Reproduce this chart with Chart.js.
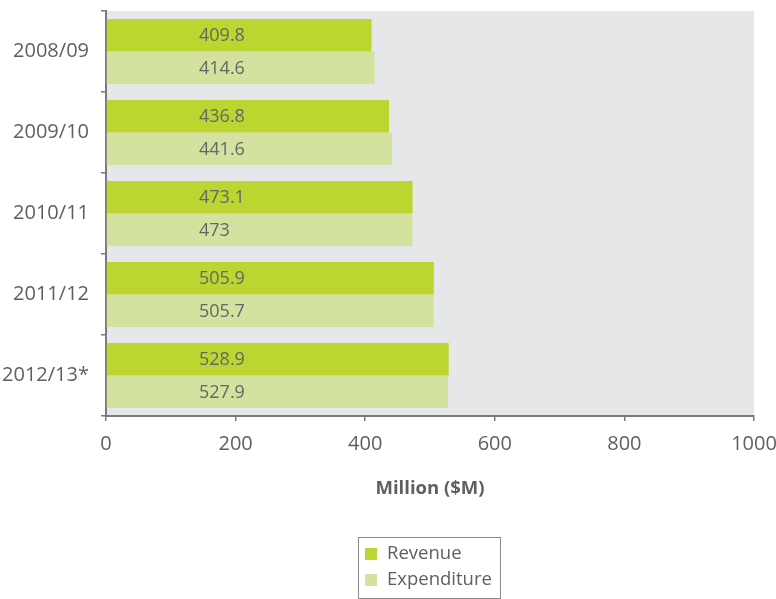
<!DOCTYPE html>
<html>
<head>
<meta charset="utf-8">
<script src="https://cdn.jsdelivr.net/npm/chart.js@4/dist/chart.umd.min.js"></script>
<style>
  html, body { margin: 0; padding: 0; background: #ffffff; }
  #wrap { width: 776px; height: 599px; position: relative; }
</style>
</head>
<body>
<div id="wrap"><canvas id="c" width="776" height="599"></canvas></div>
<script>
// Financial years shown on the vertical axis
const years = ['2008/09', '2009/10', '2010/11', '2011/12', '2012/13*'];
// Revenue and expenditure per year, in millions of dollars
const revenue = [409.8, 436.8, 473.1, 505.9, 528.9];
const expenditure = [414.6, 441.6, 473, 505.7, 527.9];
// Horizontal axis ticks
const xTicks = [0, 200, 400, 600, 800, 1000];

const FONT = "'Open Sans', 'DejaVu Sans', sans-serif";
const TEXT = '#5f5f5f';
const AXIS = '#7a7a7a';

// Grey panel behind the bars
const panelBg = {
  id: 'panelBg',
  beforeDraw(chart) {
    const { ctx, chartArea: a } = chart;
    ctx.save();
    ctx.fillStyle = '#e6e7e9';
    ctx.fillRect(a.left, a.top, a.right - a.left, a.bottom - a.top);
    ctx.restore();
  }
};

// Value written inside each bar, in a fixed column near the axis
const barValues = {
  id: 'barValues',
  afterDatasetsDraw(chart) {
    const { ctx } = chart;
    const x0 = chart.scales.x.getPixelForValue(0) + 93;
    ctx.save();
    ctx.font = '18px ' + FONT;
    ctx.fillStyle = '#666666';
    ctx.textAlign = 'left';
    ctx.textBaseline = 'middle';
    chart.data.datasets.forEach((ds, di) => {
      chart.getDatasetMeta(di).data.forEach((bar, i) => {
        ctx.fillText(String(ds.data[i]), x0, bar.y + 1);
      });
    });
    ctx.restore();
  }
};

// Boxed legend under the axis title, one entry per line
const boxLegend = {
  id: 'boxLegend',
  afterDraw(chart) {
    const { ctx } = chart;
    const left = 358.5, top = 537.5, w = 142, h = 61;
    ctx.save();
    ctx.strokeStyle = '#8a8a8a';
    ctx.lineWidth = 1;
    ctx.strokeRect(left, top, w, h);
    ctx.font = '18.5px ' + FONT;
    ctx.textBaseline = 'middle';
    ctx.textAlign = 'left';
    chart.data.datasets.forEach((ds, i) => {
      const cy = 554 + i * 26;
      ctx.fillStyle = ds.backgroundColor;
      ctx.fillRect(365, cy - 6, 12, 12);
      ctx.fillStyle = TEXT;
      ctx.fillText(ds.label, 387, cy);
    });
    ctx.restore();
  }
};

// Drop the automatic label overhang so the plot area sits where the layout says
function noOverhang(scale) {
  scale.paddingTop = 0;
  scale.paddingBottom = 0;
  scale.paddingLeft = 0;
  scale.paddingRight = 0;
}

new Chart(document.getElementById('c'), {
  type: 'bar',
  data: {
    labels: years,
    datasets: [
      { label: 'Revenue', data: revenue, backgroundColor: '#bcd531',
        categoryPercentage: 0.8, barPercentage: 1.0 },
      { label: 'Expenditure', data: expenditure, backgroundColor: '#d3e39f',
        categoryPercentage: 0.8, barPercentage: 1.0 }
    ]
  },
  options: {
    indexAxis: 'y',
    responsive: false,
    animation: false,
    devicePixelRatio: 1,
    layout: { padding: { top: 11, right: 22, bottom: 99, left: 0 } },
    plugins: {
      legend: { display: false },
      tooltip: { enabled: false }
    },
    scales: {
      x: {
        min: xTicks[0],
        max: xTicks[xTicks.length - 1],
        afterBuildTicks(scale) { scale.ticks = xTicks.map(v => ({ value: v })); },
        afterFit(scale) { scale.height = 84; noOverhang(scale); },
        grid: { drawOnChartArea: false, drawTicks: true, tickLength: 5, color: AXIS, lineWidth: 1.5 },
        border: { display: true, color: AXIS, width: 2 },
        ticks: { color: TEXT, padding: 11, font: { family: FONT, size: 20 },
                 callback: v => String(v) },
        title: {
          display: true, text: 'Million ($M)', color: TEXT,
          padding: { top: 0, bottom: 0 },
          font: { family: FONT, size: 18.5, weight: 'bold' }
        }
      },
      y: {
        afterFit(scale) { scale.width = 106; noOverhang(scale); },
        grid: { offset: true, drawOnChartArea: false, drawTicks: true, tickLength: 5, color: AXIS, lineWidth: 1.5 },
        border: { display: true, color: AXIS, width: 2 },
        ticks: { color: TEXT, padding: 12, font: { family: FONT, size: 20 } }
      }
    }
  },
  plugins: [panelBg, barValues, boxLegend]
});
</script>
</body>
</html>
